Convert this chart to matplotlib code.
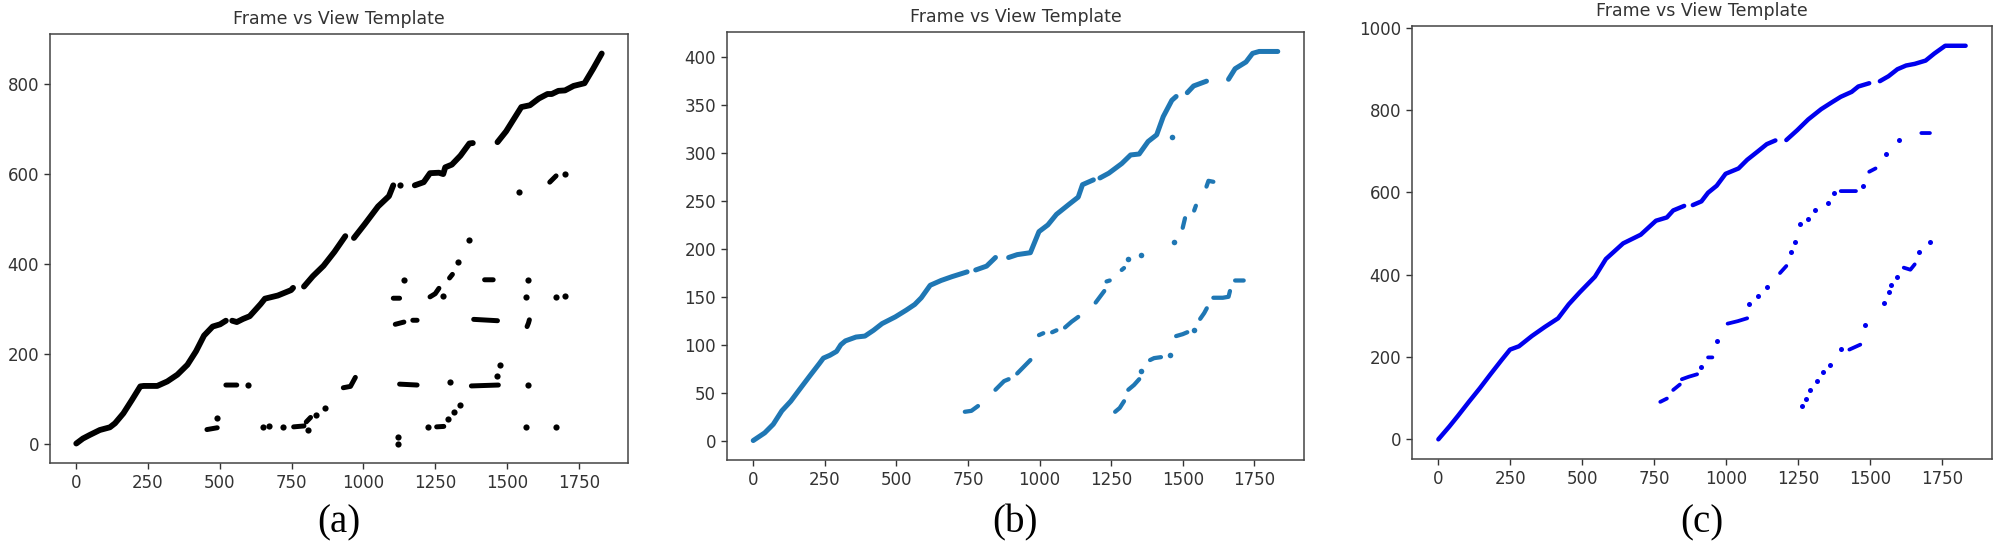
"""
Frame vs view-template matches for three runs, panels (a)-(c).

Writes out.png (2000 x 548).
"""
import matplotlib
matplotlib.use("Agg")
import matplotlib.pyplot as plt
import numpy as np
from matplotlib.ticker import MultipleLocator

nan = np.nan

# ---- panel (a): black ----
a_main_x = [0, 23, 47, 82, 117, 135, 164, 194, 223, 235, 282, 317, 352, 387, 417,
            445, 475, 501, 521, nan, 543, 559, 581, 604, 642, 657, 702, 748, 755,
            nan, 793, 824, 861, 899, 937, nan, 967, 1005, 1051, 1089, 1104, nan,
            1179, 1210, 1232, 1263, 1278, 1285, 1308, 1338, 1369, 1381, nan,
            1467, 1497, 1550, 1580, 1611, 1641, 1656, 1679, 1702, 1732, 1770,
            1800, 1830]
a_main_y = [0, 11, 19, 30, 36, 45, 67, 97, 127, 128, 128, 138, 153, 175, 205,
            240, 260, 265, 273, nan, 273, 270, 277, 283, 310, 322, 329, 341, 346,
            nan, 349, 372, 395, 426, 461, nan, 457, 488, 527, 550, 574, nan,
            574, 581, 601, 602, 599, 614, 620, 640, 667, 668, nan,
            670, 694, 748, 752, 767, 777, 777, 784, 785, 795, 801,
            833, 867]
a_side_x = [455, 491, nan, 521, 559, nan, 757, 793, nan, 801, 816, nan,
            930, 955, 972, nan, 1104, 1126, nan, 1111, 1141, nan, 1172, 1187, nan,
            1126, 1187, nan, 1232, 1250, 1263, nan, 1255, 1280, nan, 1300, 1310, nan,
            1384, 1467, nan, 1376, 1470, nan, 1422, 1452, nan, 1570, 1575, 1578, nan,
            1649, 1671]
a_side_y = [31, 35, nan, 130, 130, nan, 37, 39, nan, 48, 58, nan,
            124, 127, 147, nan, 323, 323, nan, 265, 270, nan, 274, 274, nan,
            132, 130, nan, 326, 333, 345, nan, 37, 38, nan, 368, 376, nan,
            276, 273, nan, 128, 130, nan, 364, 364, nan, 260, 268, 275, nan,
            581, 595]
a_dot_x = [490, 597, 650, 672, 721, 808, 836, 866, 1119, 1119, 1141, 1126, 1225,
           1278, 1293, 1316, 1338, 1300, 1331, 1369, 1467, 1475, 1543, 1565, 1565,
           1573, 1573, 1702, 1671, 1702, 1671]
a_dot_y = [56, 130, 37, 39, 37, 31, 64, 78, 0, 15, 364, 574, 37,
           327, 54, 70, 85, 136, 403, 453, 151, 174, 560, 37, 326,
           364, 130, 600, 326, 327, 37]

# ---- panel (b): tab blue ----
b_main_x = [0, 40, 70, 100, 131, 161, 199, 230, 245, 268, 291, 306, 322, 359, 390,
            420, 450, 496, 534, 564, 587, 618, 656, 694, 747, nan, 777, 815, 846,
            nan, 892, 922, 968, 998, 1029, 1059, 1105, 1135, 1150, 1188, nan,
            1211, 1242, 1287, 1318, 1348, 1379, 1409, 1432, 1462, 1477, nan,
            1516, 1538, 1583, nan, 1660, 1683, 1721, 1744, 1767, 1832]
b_main_y = [0, 8, 17, 31, 41, 53, 68, 80, 86, 89, 93, 100, 104, 108, 109,
            115, 122, 129, 136, 142, 149, 162, 167, 171, 176, nan, 178, 182, 191,
            nan, 191, 194, 196, 218, 225, 236, 247, 254, 267, 272, nan,
            274, 279, 289, 298, 299, 312, 319, 338, 355, 359, nan,
            363, 370, 375, nan, 377, 388, 395, 404, 406, 406]
b_side_x = [739, 762, 785, nan, 846, 876, 892, nan, 922, 945, 968, nan, 998, 1013, nan,
            1044, 1059, nan, 1089, 1112, 1135, nan, 1196, 1226, nan, 1234, 1245, nan,
            1287, 1295, nan, 1500, 1508, nan, 1540, 1546, nan, 1583, 1590, 1607, nan,
            1264, 1280, 1295, nan, 1310, 1330, 1348, nan, 1386, 1400, 1424, nan,
            1477, 1500, 1516, nan, 1561, 1575, 1584, nan, 1607, 1640, 1660, 1665, nan,
            1683, 1713]
b_side_y = [30, 31, 36, nan, 53, 62, 64, nan, 70, 77, 84, nan, 110, 112, nan,
            113, 115, nan, 118, 124, 129, nan, 144, 156, nan, 166, 167, nan,
            178, 180, nan, 222, 232, nan, 240, 245, nan, 265, 271, 270, nan,
            30, 34, 41, nan, 53, 58, 64, nan, 84, 86, 87, nan,
            109, 111, 113, nan, 127, 133, 138, nan, 149, 149, 150, 156, nan,
            167, 167]
b_dot_x = [1310, 1356, 1470, 1462, 1356, 1455, 1538]
b_dot_y = [189, 194, 207, 317, 73, 89, 115]

# ---- panel (c): blue ----
c_main_x = [0, 38, 68, 106, 144, 181, 219, 249, 280, 325, 370, 416, 453, 491, 544,
            582, 642, 703, 756, 794, 816, 854, nan, 884, 914, 937, 967, 998, 1043,
            1073, 1111, 1141, 1171, nan, 1209, 1247, 1285, 1330, 1368, 1398, 1436,
            1459, 1497, nan, 1534, 1564, 1595, 1625, 1655, 1693, 1723, 1761, 1832]
c_main_y = [0, 31, 57, 91, 124, 158, 192, 218, 226, 251, 273, 294, 328, 357, 395,
            438, 476, 497, 531, 539, 556, 567, nan, 569, 578, 599, 616, 645, 658,
            679, 700, 717, 726, nan, 727, 751, 777, 802, 819, 832, 844,
            857, 865, nan, 870, 882, 899, 908, 912, 920, 937, 956, 956]
c_side_x = [771, 794, nan, 816, 839, nan, 846, 870, 899, nan, 937, 952, nan,
            1005, 1040, 1073, nan, 1187, 1209, nan, 1398, 1451, nan, 1497, 1519, nan,
            1678, 1708, nan, 1428, 1466, nan, 1617, 1640, 1655]
c_side_y = [91, 99, nan, 120, 133, nan, 146, 152, 158, nan, 199, 199, nan,
            281, 287, 294, nan, 404, 421, nan, 603, 603, nan, 650, 658, nan,
            744, 744, nan, 218, 230, nan, 417, 412, 425]
c_dot_x = [914, 967, 1081, 1111, 1141, 1224, 1239, 1255, 1285, 1308, 1353, 1376,
           1474, 1557, 1602, 1262, 1277, 1292, 1315, 1338, 1360, 1398, 1481, 1549,
           1564, 1572, 1595, 1670, 1708]
c_dot_y = [175, 239, 328, 349, 370, 455, 480, 522, 535, 556, 573, 599,
           616, 692, 727, 80, 99, 120, 141, 163, 180, 219, 277, 332,
           357, 374, 395, 455, 480]

TITLE = "Frame vs View Template"
LABELS = ["(a)", "(b)", "(c)"]
TXT = "#333333"


def draw(ax, main, side, dots, color, lw, s, yticks):
    ax.plot(main[0], main[1], "-", color=color, lw=lw,
            solid_capstyle="round", solid_joinstyle="round")
    ax.plot(side[0], side[1], "-", color=color, lw=lw * 0.85,
            solid_capstyle="round")
    ax.scatter(dots[0], dots[1], s=s, color=color, linewidths=0)
    ax.xaxis.set_major_locator(MultipleLocator(250))
    ax.set_yticks(yticks)
    ax.set_title(TITLE, fontsize=12.5, color=TXT, pad=7)
    ax.tick_params(labelsize=12, colors=TXT, length=4.5, width=1.0)
    for sp in ax.spines.values():
        sp.set_color("#444444")
        sp.set_linewidth(1.1)


def main() -> None:
    fig = plt.figure(figsize=(20, 5.48), dpi=100)

    ax_a = fig.add_axes([0.025, 0.1551, 0.289, 0.7828])
    draw(ax_a, (a_main_x, a_main_y), (a_side_x, a_side_y), (a_dot_x, a_dot_y),
         "black", 4.2, 20, np.arange(0, 801, 200))

    ax_b = fig.add_axes([0.3635, 0.1606, 0.2885, 0.781])
    draw(ax_b, (b_main_x, b_main_y), (b_side_x, b_side_y), (b_dot_x, b_dot_y),
         "#1f77b4", 3.6, 16, np.arange(0, 401, 50))

    ax_c = fig.add_axes([0.706, 0.1624, 0.29, 0.790])
    draw(ax_c, (c_main_x, c_main_y), (c_side_x, c_side_y), (c_dot_x, c_dot_y),
         "#0000ee", 3.2, 13, np.arange(0, 1001, 200))

    for xc, lab in zip([0.1695, 0.5075, 0.851], LABELS):
        fig.text(xc, 0.045, lab, ha="center", va="center", fontsize=28,
                 family="Liberation Serif")

    fig.savefig("out.png", dpi=100)


if __name__ == "__main__":
    main()
